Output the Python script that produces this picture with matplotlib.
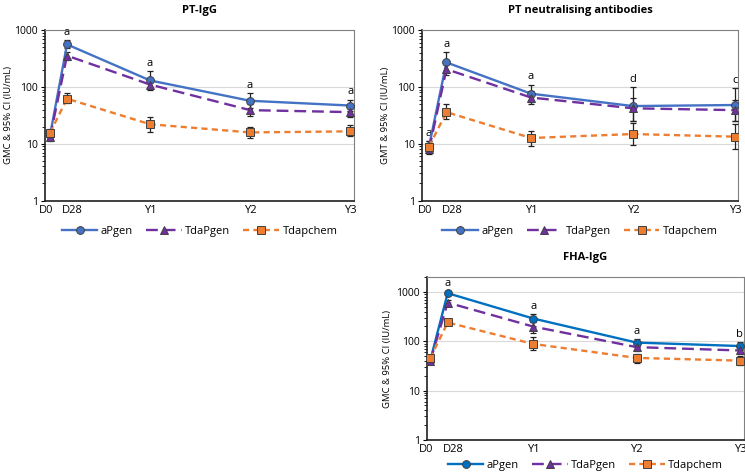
import numpy as np
import matplotlib.pyplot as plt
from matplotlib.ticker import FixedLocator, LogLocator, NullFormatter
from matplotlib.transforms import ScaledTranslation

plt.rcParams['font.family'] = ['Open Sans', 'DejaVu Sans']

# time points (x positions in "years", D28 stretched like the original)
times = ['D0', 'D28', 'Y1', 'Y2', 'Y3']
xpos = [0, 0.17, 1, 2, 3]

groups = ['aPgen', 'TdaPgen', 'Tdapchem']

# PT-IgG (GMC, lower CI, upper CI)
pt_igg = {
    'aPgen':    ([14, 560, 130, 57, 47], [12, 480, 95, 43, 38], [17, 660, 190, 78, 60]),
    'TdaPgen':  ([13, 355, 110, 39, 36], [11, 300, 88, 31, 29], [15, 420, 140, 50, 45]),
    'Tdapchem': ([15.5, 62, 22, 15.8, 16.5], [13, 52, 16, 12.5, 13.5], [18, 77, 29, 20, 21]),
}
pt_igg_letters = ['', 'a', 'a', 'a', 'a']

# PT neutralising antibodies (GMT)
pt_nab = {
    'aPgen':    ([9.1, 270, 76, 46, 48], [7.5, 180, 55, 25, 25], [11, 410, 110, 100, 95]),
    'TdaPgen':  ([8.0, 205, 65, 42, 39], [6.5, 165, 50, 25, 25], [9.5, 260, 85, 65, 60]),
    'Tdapchem': ([8.9, 36, 12.6, 14.8, 13.3], [7, 27, 9, 9.5, 8], [11, 50, 17, 23, 22]),
}
pt_nab_letters = ['a', 'a', 'a', 'd', 'c']

# FHA-IgG (GMC)
fha_igg = {
    'aPgen':    ([40, 940, 288, 94, 80], [35, 850, 240, 80, 65], [46, 1040, 360, 110, 95]),
    'TdaPgen':  ([39, 605, 198, 76, 65], [34, 540, 150, 64, 55], [45, 680, 260, 90, 77]),
    'Tdapchem': ([45, 240, 88, 46, 40.5], [39, 210, 65, 37, 33], [52, 275, 120, 55, 50]),
}
fha_igg_letters = ['', 'a', 'a', 'a', 'b']

styles = {
    'aPgen':    dict(color='#4472C4', ls='-', marker='o'),
    'TdaPgen':  dict(color='#7030A0', ls=(0, (5, 2.5)), marker='^'),
    'Tdapchem': dict(color='#ED7D31', ls=(0, (2.6, 1.8)), marker='s'),
}


def panel(ax, data, letters, title, ylabel, ylim, xlim, ylab_x, leg_y, blue=None):
    for g in groups:
        y, lo, hi = (np.array(v, float) for v in data[g])
        st = dict(styles[g])
        if blue and g == 'aPgen':
            st['color'] = blue
        ax.errorbar(xpos, y, yerr=[y - lo, hi - y], fmt='none', ecolor='#222222',
                    elinewidth=0.9, capsize=2.2, capthick=0.9, zorder=3)
        ax.plot(xpos, y, color=st['color'], ls=st['ls'], lw=1.7,
                marker=st['marker'], ms=5.6, mfc=st['color'], mec='#404040',
                mew=0.7, label=g, zorder=4)
    top = np.array(data['aPgen'][2], float)
    for x, t, lab in zip(xpos, top, letters):
        if lab:
            ax.text(x, t * 1.1, lab, ha='center', va='bottom', fontsize=8, zorder=2)
    ax.set_yscale('log')
    ax.set_ylim(*ylim)
    ax.set_xlim(*xlim)
    ax.yaxis.set_major_locator(FixedLocator([1, 10, 100, 1000]))
    ax.yaxis.set_major_formatter(plt.FuncFormatter(lambda v, p: f'{int(v)}'))
    ax.yaxis.set_minor_locator(LogLocator(base=10, subs=np.arange(2, 10)))
    ax.yaxis.set_minor_formatter(NullFormatter())
    ax.tick_params(axis='y', which='major', length=3, labelsize=7.5, direction='out', pad=2)
    ax.tick_params(axis='y', which='minor', length=2, direction='out')
    ax.set_xticks(xpos)
    ax.set_xticklabels(times)
    ax.tick_params(axis='x', length=0, labelsize=8, pad=3)
    labs = ax.get_xticklabels()
    labs[0].set_transform(labs[0].get_transform() + ScaledTranslation(-3 / 72, 0, fig.dpi_scale_trans))
    labs[1].set_transform(labs[1].get_transform() + ScaledTranslation(4 / 72, 0, fig.dpi_scale_trans))
    ax.grid(axis='y', which='major', color='#d9d9d9', lw=0.8)
    ax.set_axisbelow(True)
    for s in ['top', 'right']:
        ax.spines[s].set_color('#808080')
    for s in ['left', 'bottom']:
        ax.spines[s].set_color('#202020')
        ax.spines[s].set_linewidth(1.2)
    ax.set_title(title, fontsize=8, fontweight='bold', pad=12)
    ax.set_ylabel(ylabel, fontsize=6.8)
    ax.yaxis.set_label_coords(ylab_x, 0.5)
    ax.legend(loc='center', bbox_to_anchor=(0.5, leg_y), ncol=3, frameon=False,
              fontsize=8, handlelength=3.2, handletextpad=0.3, columnspacing=1.2)


fig = plt.figure(figsize=(7.45, 4.72), dpi=100)
ax1 = fig.add_axes([0.0604, 0.5752, 0.415, 0.361])
ax2 = fig.add_axes([0.5664, 0.5752, 0.4242, 0.361])
ax3 = fig.add_axes([0.5732, 0.0678, 0.4255, 0.3453])

panel(ax1, pt_igg, pt_igg_letters, 'PT-IgG', 'GMC & 95% CI (IU/mL)', (1, 1000),
      (-0.05, 3.04), -0.105, -0.18)
panel(ax2, pt_nab, pt_nab_letters, 'PT neutralising antibodies', 'GMT & 95% CI (IU/mL)',
      (1, 1000), (-0.07, 3.03), -0.1, -0.18)
panel(ax3, fha_igg, fha_igg_letters, 'FHA-IgG', 'GMC & 95% CI (IU/mL)', (1, 2000),
      (-0.03, 3.04), -0.112, -0.155, blue='#0070C0')

fig.savefig('out.png', dpi=100)
